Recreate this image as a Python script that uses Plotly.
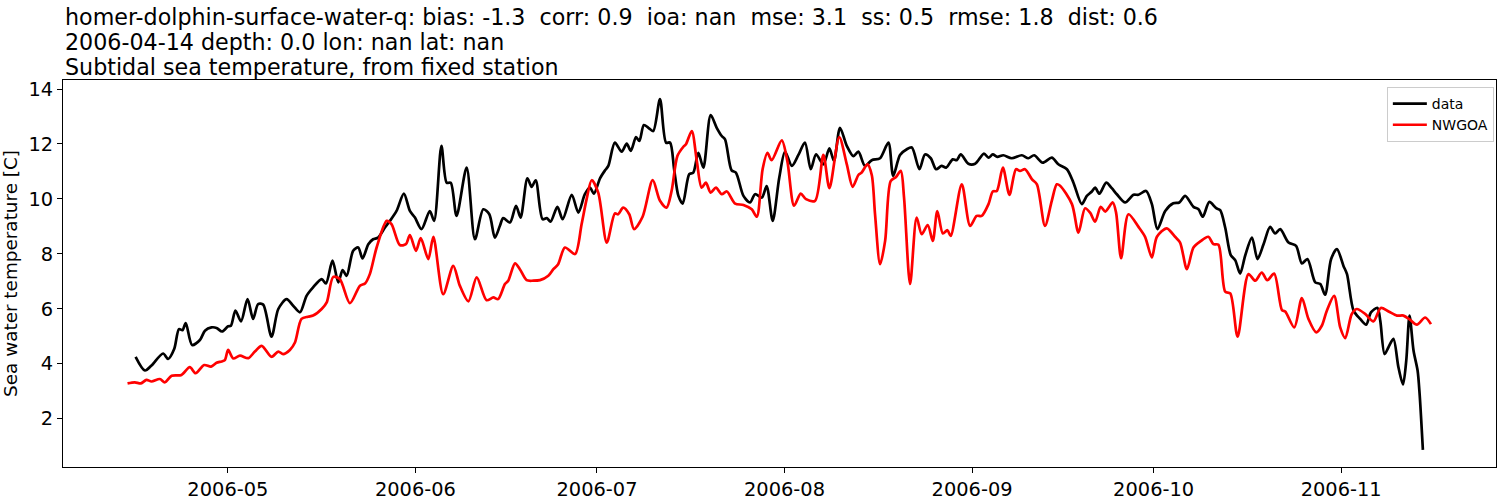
import plotly.graph_objects as go

# ---- data ----
data_time = [
    "2006-04-15 18:00", "2006-04-17 07:00", "2006-04-18 09:00", "2006-04-20 07:00", "2006-04-21 03:00",
    "2006-04-22 03:00", "2006-04-22 22:00", "2006-04-23 12:00", "2006-04-24 01:00", "2006-04-25 02:00",
    "2006-04-26 09:00", "2006-04-27 05:00", "2006-04-28 07:00", "2006-04-29 03:00", "2006-04-30 01:00",
    "2006-05-01 01:00", "2006-05-01 12:00", "2006-05-02 06:00", "2006-05-03 04:00", "2006-05-04 06:00",
    "2006-05-05 04:00", "2006-05-06 00:00", "2006-05-06 20:00", "2006-05-08 05:00", "2006-05-09 08:00",
    "2006-05-10 17:00", "2006-05-11 19:00", "2006-05-12 22:00", "2006-05-14 00:00", "2006-05-15 02:00",
    "2006-05-16 12:00", "2006-05-17 05:00", "2006-05-18 07:00", "2006-05-19 06:00", "2006-05-19 23:00",
    "2006-05-20 15:00", "2006-05-21 17:00", "2006-05-22 13:00", "2006-05-23 06:00", "2006-05-24 05:00",
    "2006-05-25 00:00", "2006-05-25 20:00", "2006-05-26 23:00", "2006-05-27 19:00", "2006-05-28 21:00",
    "2006-05-30 02:00", "2006-05-31 02:00", "2006-05-31 22:00", "2006-06-02 00:00", "2006-06-03 09:00",
    "2006-06-04 02:00", "2006-06-05 07:00", "2006-06-06 04:00", "2006-06-06 20:00", "2006-06-07 19:00",
    "2006-06-09 11:00", "2006-06-10 20:00", "2006-06-12 05:00", "2006-06-13 05:00", "2006-06-14 03:00",
    "2006-06-14 23:00", "2006-06-15 12:00", "2006-06-16 15:00", "2006-06-17 15:00", "2006-06-18 09:00",
    "2006-06-19 12:00", "2006-06-20 05:00", "2006-06-20 21:00", "2006-06-22 00:00", "2006-06-22 17:00",
    "2006-06-23 08:00", "2006-06-24 11:00", "2006-06-25 08:00", "2006-06-26 20:00", "2006-06-27 22:00",
    "2006-06-29 00:00", "2006-06-29 20:00", "2006-06-30 12:00", "2006-07-01 12:00", "2006-07-02 08:00",
    "2006-07-02 21:00", "2006-07-03 23:00", "2006-07-05 02:00", "2006-07-05 22:00", "2006-07-06 14:00",
    "2006-07-07 11:00", "2006-07-08 00:00", "2006-07-08 18:00", "2006-07-09 12:00", "2006-07-10 07:00",
    "2006-07-11 10:00", "2006-07-12 10:00", "2006-07-13 02:00", "2006-07-13 18:00", "2006-07-14 11:00",
    "2006-07-15 04:00", "2006-07-16 06:00", "2006-07-16 22:00", "2006-07-17 18:00", "2006-07-18 14:00",
    "2006-07-19 19:00", "2006-07-20 19:00", "2006-07-21 15:00", "2006-07-22 04:00", "2006-07-23 06:00",
    "2006-07-23 23:00", "2006-07-25 05:00", "2006-07-26 07:00", "2006-07-27 03:00", "2006-07-28 06:00",
    "2006-07-29 01:00", "2006-07-30 01:00", "2006-07-31 03:00", "2006-08-01 02:00", "2006-08-02 05:00",
    "2006-08-03 07:00", "2006-08-04 09:00", "2006-08-05 08:00", "2006-08-06 05:00", "2006-08-07 10:00",
    "2006-08-08 10:00", "2006-08-09 04:00", "2006-08-10 04:00", "2006-08-11 07:00", "2006-08-12 09:00",
    "2006-08-13 05:00", "2006-08-14 07:00", "2006-08-15 10:00", "2006-08-16 19:00", "2006-08-18 04:00",
    "2006-08-18 23:00", "2006-08-20 02:00", "2006-08-21 05:00", "2006-08-22 01:00", "2006-08-23 07:00",
    "2006-08-24 05:00", "2006-08-25 04:00", "2006-08-26 01:00", "2006-08-26 23:00", "2006-08-27 17:00",
    "2006-08-28 19:00", "2006-08-29 11:00", "2006-08-30 03:00", "2006-08-31 09:00", "2006-09-01 12:00",
    "2006-09-02 23:00", "2006-09-03 17:00", "2006-09-04 10:00", "2006-09-05 04:00", "2006-09-06 04:00",
    "2006-09-07 13:00", "2006-09-09 05:00", "2006-09-10 07:00", "2006-09-11 06:00", "2006-09-12 16:00",
    "2006-09-14 04:00", "2006-09-15 06:00", "2006-09-16 16:00", "2006-09-17 18:00", "2006-09-19 03:00",
    "2006-09-19 23:00", "2006-09-20 19:00", "2006-09-21 08:00", "2006-09-22 01:00", "2006-09-23 04:00",
    "2006-09-24 02:00", "2006-09-24 22:00", "2006-09-26 07:00", "2006-09-27 16:00", "2006-09-28 12:00",
    "2006-09-29 18:00", "2006-09-30 17:00", "2006-10-01 15:00", "2006-10-02 22:00", "2006-10-04 06:00",
    "2006-10-05 06:00", "2006-10-06 05:00", "2006-10-07 14:00", "2006-10-08 10:00", "2006-10-09 03:00",
    "2006-10-10 05:00", "2006-10-11 08:00", "2006-10-12 00:00", "2006-10-12 20:00", "2006-10-13 18:00",
    "2006-10-14 12:00", "2006-10-15 07:00", "2006-10-16 03:00", "2006-10-17 06:00", "2006-10-18 04:00",
    "2006-10-19 04:00", "2006-10-20 06:00", "2006-10-21 02:00", "2006-10-21 22:00", "2006-10-23 07:00",
    "2006-10-24 13:00", "2006-10-25 12:00", "2006-10-26 10:00", "2006-10-27 17:00", "2006-10-28 13:00",
    "2006-10-29 08:00", "2006-10-30 08:00", "2006-10-31 07:00", "2006-11-01 09:00", "2006-11-01 23:00",
    "2006-11-03 01:00", "2006-11-04 03:00", "2006-11-05 03:00", "2006-11-05 22:00", "2006-11-07 00:00",
    "2006-11-07 11:00", "2006-11-08 04:00", "2006-11-08 19:00", "2006-11-09 15:00", "2006-11-10 11:00",
    "2006-11-11 05:00", "2006-11-11 18:00", "2006-11-12 07:00", "2006-11-12 23:00", "2006-11-13 15:00",
    "2006-11-13 23:00", "2006-11-14 12:00",
]
data_temp = [
    4.25, 3.75, 3.93, 4.37, 4.17, 4.53, 5.26, 5.22, 5.48, 4.68,
    4.86, 5.20, 5.32, 5.30, 5.17, 5.36, 5.38, 5.93, 5.54, 6.35,
    5.63, 6.17, 6.15, 4.98, 5.99, 6.35, 6.11, 5.87, 6.47, 6.78,
    7.08, 6.92, 7.75, 6.96, 7.41, 7.20, 8.11, 8.23, 7.83, 8.35,
    8.53, 8.59, 8.96, 9.20, 9.56, 10.19, 9.56, 9.32, 8.90, 9.56,
    9.20, 11.93, 10.59, 10.59, 9.38, 11.14, 8.53, 9.62, 9.44, 8.59,
    9.02, 9.30, 9.14, 9.75, 9.32, 10.75, 10.44, 10.68, 9.26, 9.30,
    9.17, 9.71, 9.26, 10.15, 9.50, 10.17, 10.41, 10.19, 10.75, 11.04,
    11.20, 12.05, 11.72, 12.01, 11.75, 12.25, 12.11, 12.69, 12.59, 12.47,
    13.63, 12.05, 12.05, 11.08, 10.11, 9.83, 10.90, 10.96, 11.68, 11.14,
    13.05, 12.59, 12.29, 12.17, 11.04, 10.96, 10.11, 9.87, 10.17, 10.05,
    10.47, 9.20, 10.77, 11.72, 11.20, 11.60, 12.05, 11.08, 11.62, 11.26,
    11.84, 11.38, 12.59, 11.93, 11.56, 11.72, 11.20, 11.41, 11.48, 12.05,
    10.84, 11.60, 11.81, 11.87, 11.08, 11.62, 11.48, 11.08, 11.20, 11.14,
    11.44, 11.41, 11.62, 11.28, 11.28, 11.65, 11.50, 11.62, 11.53, 11.59,
    11.48, 11.59, 11.48, 11.59, 11.32, 11.50, 11.26, 11.08, 10.59, 9.81,
    10.11, 10.27, 10.41, 10.19, 10.59, 10.39, 10.17, 9.87, 10.15, 10.15,
    10.29, 9.81, 8.90, 9.56, 9.84, 9.87, 10.11, 9.71, 9.62, 9.35,
    9.89, 9.66, 9.59, 8.95, 7.95, 7.76, 7.28, 7.93, 8.59, 7.81,
    8.35, 8.98, 8.74, 8.90, 8.41, 8.29, 7.65, 7.81, 6.96, 6.90,
    6.51, 7.81, 8.17, 7.56, 7.26, 5.93, 5.63, 5.42, 5.87, 6.03,
    5.56, 4.35, 4.59, 4.90, 3.87, 3.24, 4.11, 5.75, 4.47, 3.75,
    2.90, 0.86,
]

model_time = [
    "2006-04-14 10:00", "2006-04-15 15:00", "2006-04-16 15:00", "2006-04-17 13:00", "2006-04-18 09:00",
    "2006-04-19 18:00", "2006-04-20 14:00", "2006-04-21 17:00", "2006-04-23 08:00", "2006-04-24 17:00",
    "2006-04-25 16:00", "2006-04-27 02:00", "2006-04-28 05:00", "2006-04-29 03:00", "2006-04-29 23:00",
    "2006-04-30 12:00", "2006-05-01 01:00", "2006-05-01 21:00", "2006-05-03 00:00", "2006-05-04 09:00",
    "2006-05-05 11:00", "2006-05-06 14:00", "2006-05-08 05:00", "2006-05-09 08:00", "2006-05-10 03:00",
    "2006-05-11 06:00", "2006-05-12 02:00", "2006-05-13 04:00", "2006-05-14 06:00", "2006-05-15 02:00",
    "2006-05-16 12:00", "2006-05-17 08:00", "2006-05-18 10:00", "2006-05-19 12:00", "2006-05-21 04:00",
    "2006-05-22 20:00", "2006-05-23 16:00", "2006-05-24 11:00", "2006-05-25 14:00", "2006-05-27 06:00",
    "2006-05-28 01:00", "2006-05-29 10:00", "2006-05-30 10:00", "2006-05-31 02:00", "2006-06-01 02:00",
    "2006-06-01 21:00", "2006-06-03 03:00", "2006-06-03 23:00", "2006-06-05 14:00", "2006-06-07 06:00",
    "2006-06-08 08:00", "2006-06-09 18:00", "2006-06-11 03:00", "2006-06-12 18:00", "2006-06-13 21:00",
    "2006-06-14 16:00", "2006-06-15 19:00", "2006-06-16 08:00", "2006-06-17 11:00", "2006-06-18 06:00",
    "2006-06-19 09:00", "2006-06-20 11:00", "2006-06-21 14:00", "2006-06-22 23:00", "2006-06-23 19:00",
    "2006-06-24 14:00", "2006-06-25 17:00", "2006-06-27 09:00", "2006-06-28 11:00", "2006-06-29 07:00",
    "2006-06-30 03:00", "2006-07-01 05:00", "2006-07-02 15:00", "2006-07-03 23:00", "2006-07-04 12:00",
    "2006-07-05 08:00", "2006-07-06 08:00", "2006-07-07 03:00", "2006-07-08 13:00", "2006-07-10 05:00",
    "2006-07-11 10:00", "2006-07-12 12:00", "2006-07-13 08:00", "2006-07-14 07:00", "2006-07-15 06:00",
    "2006-07-15 17:00", "2006-07-16 16:00", "2006-07-17 12:00", "2006-07-18 07:00", "2006-07-19 00:00",
    "2006-07-19 19:00", "2006-07-20 16:00", "2006-07-21 15:00", "2006-07-22 11:00", "2006-07-23 20:00",
    "2006-07-25 05:00", "2006-07-26 14:00", "2006-07-27 10:00", "2006-07-28 09:00", "2006-07-29 04:00",
    "2006-07-29 21:00", "2006-07-31 13:00", "2006-08-01 11:00", "2006-08-02 14:00", "2006-08-03 16:00",
    "2006-08-04 13:00", "2006-08-06 01:00", "2006-08-07 10:00", "2006-08-08 10:00", "2006-08-10 01:00",
    "2006-08-11 07:00", "2006-08-12 06:00", "2006-08-13 05:00", "2006-08-13 18:00", "2006-08-14 17:00",
    "2006-08-15 10:00", "2006-08-15 23:00", "2006-08-16 19:00", "2006-08-17 15:00", "2006-08-18 13:00",
    "2006-08-19 10:00", "2006-08-20 05:00", "2006-08-20 18:00", "2006-08-21 18:00", "2006-08-22 20:00",
    "2006-08-23 16:00", "2006-08-24 16:00", "2006-08-25 12:00", "2006-08-26 06:00", "2006-08-27 04:00",
    "2006-08-27 22:00", "2006-08-28 11:00", "2006-08-30 07:00", "2006-08-31 16:00", "2006-09-01 18:00",
    "2006-09-02 14:00", "2006-09-03 17:00", "2006-09-04 10:00", "2006-09-05 02:00", "2006-09-06 02:00",
    "2006-09-07 04:00", "2006-09-08 06:00", "2006-09-08 22:00", "2006-09-09 18:00", "2006-09-10 21:00",
    "2006-09-11 17:00", "2006-09-13 01:00", "2006-09-14 04:00", "2006-09-15 00:00", "2006-09-15 13:00",
    "2006-09-17 12:00", "2006-09-18 14:00", "2006-09-19 16:00", "2006-09-20 12:00", "2006-09-21 08:00",
    "2006-09-22 06:00", "2006-09-23 00:00", "2006-09-24 06:00", "2006-09-24 19:00", "2006-09-25 15:00",
    "2006-09-26 20:00", "2006-09-28 12:00", "2006-09-29 14:00", "2006-09-30 17:00", "2006-10-01 13:00",
    "2006-10-03 04:00", "2006-10-04 13:00", "2006-10-05 09:00", "2006-10-06 12:00", "2006-10-07 14:00",
    "2006-10-08 17:00", "2006-10-10 01:00", "2006-10-10 21:00", "2006-10-11 17:00", "2006-10-12 20:00",
    "2006-10-13 16:00", "2006-10-14 21:00", "2006-10-16 16:00", "2006-10-17 19:00", "2006-10-18 21:00",
    "2006-10-19 19:00", "2006-10-20 22:00", "2006-10-22 05:00", "2006-10-22 18:00", "2006-10-24 06:00",
    "2006-10-25 12:00", "2006-10-26 14:00", "2006-10-27 21:00", "2006-10-28 19:00", "2006-10-29 15:00",
    "2006-10-30 20:00", "2006-10-31 20:00", "2006-11-01 16:00", "2006-11-02 18:00", "2006-11-03 14:00",
    "2006-11-04 23:00", "2006-11-06 08:00", "2006-11-07 13:00", "2006-11-08 20:00", "2006-11-10 05:00",
    "2006-11-11 07:00", "2006-11-12 10:00", "2006-11-13 12:00", "2006-11-14 21:00", "2006-11-15 20:00",
]
model_temp = [
    3.28, 3.32, 3.28, 3.41, 3.35, 3.44, 3.32, 3.56, 3.59, 3.87,
    3.65, 3.95, 3.89, 4.03, 4.08, 4.13, 4.50, 4.19, 4.29, 4.20,
    4.44, 4.65, 4.25, 4.44, 4.35, 4.50, 4.77, 5.63, 5.71, 5.75,
    5.99, 6.23, 7.16, 7.08, 6.20, 6.84, 6.92, 7.26, 8.23, 9.20,
    9.08, 8.32, 8.35, 8.68, 8.11, 8.57, 7.81, 8.62, 6.53, 7.56,
    6.84, 6.27, 7.14, 6.31, 6.41, 6.35, 6.90, 7.02, 7.65, 7.44,
    7.04, 7.02, 7.04, 7.20, 7.44, 7.62, 8.23, 7.99, 9.08, 9.99,
    10.68, 10.23, 8.41, 9.47, 9.44, 9.68, 9.44, 8.90, 9.35, 10.68,
    9.93, 9.68, 10.29, 11.56, 11.89, 11.99, 12.47, 11.38, 10.41, 10.59,
    10.23, 10.41, 10.17, 10.27, 9.83, 9.78, 9.62, 9.35, 11.08, 11.68,
    11.41, 12.13, 11.38, 9.75, 10.19, 9.99, 9.93, 11.60, 10.39, 12.25,
    11.26, 10.44, 10.87, 10.96, 11.26, 10.87, 9.44, 7.62, 8.47, 10.65,
    10.80, 11.02, 10.05, 6.90, 9.32, 8.72, 9.05, 8.47, 9.56, 8.74,
    8.86, 8.65, 10.53, 9.02, 9.38, 9.38, 9.81, 10.27, 10.29, 11.14,
    10.15, 11.08, 11.02, 11.08, 10.72, 10.53, 9.02, 9.93, 10.53, 10.48,
    9.81, 8.77, 9.66, 9.50, 9.17, 9.71, 9.54, 9.87, 9.50, 7.84,
    9.44, 8.98, 8.62, 7.87, 8.62, 8.93, 8.62, 8.41, 7.44, 8.23,
    8.45, 8.62, 8.35, 8.33, 6.62, 6.56, 4.98, 7.26, 7.02, 7.32,
    7.04, 7.28, 5.95, 5.90, 5.32, 6.39, 5.63, 5.14, 5.38, 5.93,
    6.47, 5.32, 4.93, 5.81, 5.99, 5.81, 5.54, 6.03, 5.90, 5.75,
    5.75, 5.59, 5.42, 5.68, 5.44,
]

series_names = ["data", "NWGOA"]
series_colors = ["#000000", "#ff0000"]

title_lines = [
    "homer-dolphin-surface-water-q: bias: -1.3  corr: 0.9  ioa: nan  mse: 3.1  ss: 0.5  rmse: 1.8  dist: 0.6",
    "2006-04-14 depth: 0.0 lon: nan lat: nan",
    "Subtidal sea temperature, from fixed station",
]
y_label = "Sea water temperature [C]"
x_tick_vals = ["2006-05-01", "2006-06-01", "2006-07-01", "2006-08-01",
               "2006-09-01", "2006-10-01", "2006-11-01"]
x_tick_text = ["2006-05", "2006-06", "2006-07", "2006-08", "2006-09", "2006-10", "2006-11"]
y_tick_vals = [2, 4, 6, 8, 10, 12, 14]

FONT = "DejaVu Sans"

fig = go.Figure()
for name, xs, ys, color in [
    (series_names[0], data_time, data_temp, series_colors[0]),
    (series_names[1], model_time, model_temp, series_colors[1]),
]:
    fig.add_trace(go.Scatter(
        x=xs, y=ys, mode="lines", name=name,
        line=dict(color=color, width=2.7, shape="spline", smoothing=0.8),
    ))

annotations = []
for txt, yc in zip(title_lines, [1.162, 1.097, 1.033]):
    annotations.append(dict(
        text=txt, xref="paper", yref="paper", x=0, y=yc,
        xanchor="left", yanchor="middle", showarrow=False,
        font=dict(family=FONT, size=22.2, color="black"),
    ))

fig.update_layout(
    width=1500, height=500,
    margin=dict(l=63, r=4, t=80, b=33, autoexpand=False),
    paper_bgcolor="white", plot_bgcolor="white",
    font=dict(family=FONT, size=19, color="black"),
    annotations=annotations,
    showlegend=True,
    legend=dict(
        x=0.9985, y=0.982, xanchor="right", yanchor="top",
        bgcolor="white", bordercolor="#cccccc", borderwidth=1,
        font=dict(family=FONT, size=14, color="black"),
        tracegroupgap=0, itemwidth=34,
    ),
    xaxis=dict(
        range=["2006-04-03 18:00", "2006-11-26 14:00"],
        tickvals=x_tick_vals, ticktext=x_tick_text,
        showgrid=False, zeroline=False,
        showline=True, linecolor="black", linewidth=1, mirror=True,
        ticks="outside", ticklen=5, tickcolor="black",
        tickfont=dict(family=FONT, size=19.4),
    ),
    yaxis=dict(
        range=[0.236, 14.33],
        tickvals=y_tick_vals,
        showgrid=False, zeroline=False,
        showline=True, linecolor="black", linewidth=1, mirror=True,
        ticks="outside", ticklen=5, tickcolor="black",
        tickfont=dict(family=FONT, size=19.4),
        title=dict(text=y_label, font=dict(family=FONT, size=18.4), standoff=6),
    ),
)

fig.write_html(
    "out.html",
    config={"displayModeBar": False},
    post_script="document.body.style.margin='0';document.body.style.overflow='hidden';",
)
